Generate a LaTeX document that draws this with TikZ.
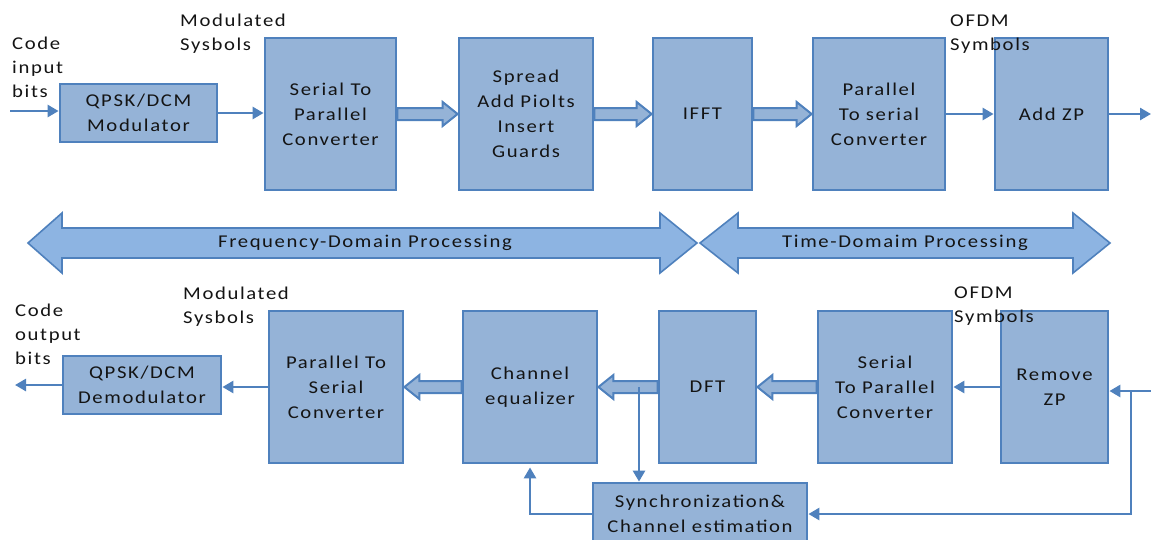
\documentclass[tikz,border=0pt]{standalone}
\usepackage{fontspec}
\setmainfont{Carlito}[FakeStretch=1.15,LetterSpace=9]
\usetikzlibrary{calc,arrows.meta}
\definecolor{boxfill}{RGB}{149,179,215}
\definecolor{boxline}{RGB}{79,129,189}
\definecolor{bandfill}{RGB}{141,180,226}
\definecolor{txt}{RGB}{20,20,20}

% wide hollow arrow pointing right / left between two anchors
\newcommand\fatright[2]{\path[fatarrow] let \p1=(#1), \p2=(#2) in
  (\x1,\y1+6pt) -- (\x2-15pt,\y1+6pt) -- (\x2-15pt,\y1+12pt) -- (\x2,\y1)
  -- (\x2-15pt,\y1-12pt) -- (\x2-15pt,\y1-6pt) -- (\x1,\y1-6pt) -- cycle;}
\newcommand\fatleft[2]{\path[fatarrow] let \p1=(#1), \p2=(#2) in
  (\x1,\y1+6pt) -- (\x2+15pt,\y1+6pt) -- (\x2+15pt,\y1+12pt) -- (\x2,\y1)
  -- (\x2+15pt,\y1-12pt) -- (\x2+15pt,\y1-6pt) -- (\x1,\y1-6pt) -- cycle;}

\begin{document}
\begin{tikzpicture}[x=1pt,y=-1pt,
  block/.style={draw=boxline, fill=boxfill, line width=2.8pt, align=center,
    text=txt, font=\fontsize{18}{25}\selectfont, inner sep=0pt},
  lbl/.style={align=left, text=txt, font=\fontsize{18}{24}\selectfont,
    inner sep=0pt, anchor=north west},
  sigline/.style={draw=boxline, line width=2.6pt,
    -{Triangle[length=11pt,width=12pt]}},
  fatarrow/.style={draw=boxline, fill=boxfill, line width=2pt, line join=miter},
  band/.style={draw=boxline, fill=bandfill, line width=1.6pt, line join=miter},
  bandtext/.style={text=txt, font=\fontsize{18}{22}\selectfont, inner sep=0pt}]

\useasboundingbox (0,0) rectangle (1151,539);
\clip (0,0) rectangle (1151,539);
\fill[white] (0,0) rectangle (1151,539);

% ---------------- transmitter chain ----------------
\node[block, minimum width=157, minimum height=58] (qpsk) at (138.5,113) {QPSK/DCM\\Modulator};
\node[block, minimum width=131, minimum height=152] (s2p) at (330.5,114) {Serial To\\Parallel\\Converter};
\node[block, minimum width=134, minimum height=152] (spread) at (526,114) {Spread\\Add Piolts\\Insert\\Guards};
\node[block, minimum width=99, minimum height=152] (ifft) at (702.5,114) {IFFT};
\node[block, minimum width=132, minimum height=152] (p2s) at (879,114) {Parallel\\To serial\\Converter};
\node[block, minimum width=113, minimum height=152] (addzp) at (1051.5,114) {Add ZP};

\coordinate (cin) at (10,111);
\coordinate (cout) at (1151,114);
\draw[sigline] (cin) -- (cin -| qpsk.west);
\draw[sigline] (qpsk.east) -- (qpsk.east -| s2p.west);
\fatright{s2p.east}{spread.west}
\fatright{spread.east}{ifft.west}
\fatright{ifft.east}{p2s.west}
\draw[sigline] (p2s.east) -- (p2s.east -| addzp.west);
\draw[sigline] (addzp.east) -- (cout);

\node[lbl] (tin) at (12,37) {Code\\input\\bits};
\node[lbl] (tmod) at (180,14) {Modulated\\Sysbols};
\node[lbl] (tofdm) at (950,15) {OFDM\\Symbols};

% ---------------- processing domains ----------------
\path[band] (28,243) -- (62,213) -- (62,228) -- (660,228) -- (660,213) -- (697,243)
  -- (660,273) -- (660,258) -- (62,258) -- (62,273) -- cycle;
\node[bandtext] (freq) at (365,243) {Frequency-Domain Processing};
\path[band] (700,243) -- (738,213) -- (738,228) -- (1073,228) -- (1073,213) -- (1110,243)
  -- (1073,273) -- (1073,258) -- (738,258) -- (738,273) -- cycle;
\node[bandtext] (time) at (905,243) {Time-Domaim Processing};

% ---------------- receiver chain ----------------
\node[block, minimum width=158, minimum height=58] (demod) at (142,385) {QPSK/DCM\\Demodulator};
\node[block, minimum width=134, minimum height=152] (p2sb) at (336,387) {Parallel To\\Serial\\Converter};
\node[block, minimum width=134, minimum height=152] (cheq) at (530,387) {Channel\\equalizer};
\node[block, minimum width=97, minimum height=152] (dft) at (707.5,387) {DFT};
\node[block, minimum width=134, minimum height=152] (s2pb) at (885,387) {Serial\\To Parallel\\Converter};
\node[block, minimum width=107, minimum height=152] (rmzp) at (1054.5,387) {Remove\\ZP};
\node[block, minimum width=214, minimum height=62] (sync) at (700,514) {Synchronization\&\\Channel estimation};

\coordinate (rin) at (1151,391);
\coordinate (tap) at (1131,391);
\coordinate (tap2) at (639,387);
\coordinate (cobits) at (15,385);
\draw[sigline] (rin) -- (rin -| rmzp.east);
\draw[sigline] (tap) |- (sync.east);
\draw[sigline] (rmzp.west) -- (rmzp.west -| s2pb.east);
\fatleft{s2pb.west}{dft.east}
\fatleft{dft.west}{cheq.east}
\draw[sigline] (tap2) -- (tap2 |- sync.north);
\draw[sigline, shorten >=3pt] (sync.west) -| (cheq.south);
\fatleft{cheq.west}{p2sb.east}
\draw[sigline] (p2sb.west) -- (p2sb.west -| demod.east);
\draw[sigline] (demod.west) -- (cobits);

\node[lbl] (tout) at (15,304) {Code\\output\\bits};
\node[lbl] (bmod) at (183,287) {Modulated\\Sysbols};
\node[lbl] (bofdm) at (954,287) {OFDM\\Symbols};
\end{tikzpicture}
\end{document}
